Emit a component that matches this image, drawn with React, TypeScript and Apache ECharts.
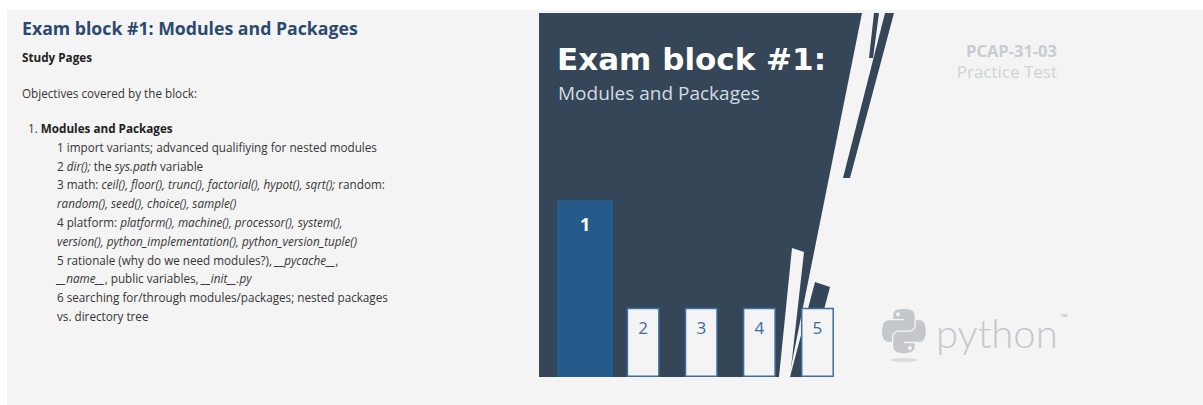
import React, { useEffect, useRef } from "react";
import * as echarts from "echarts";

const categories = ["1", "2", "3", "4", "5"];
const leadBar = [48.6, "-", "-", "-", "-"];
const blockBars = ["-", 19, 19, 19, 19];

const objectiveLines = [
  "1 import variants; advanced qualifiying for nested modules",
  "2 {i|dir();} the {i|sys.path} variable",
  "3 math: {i|ceil(), floor(), trunc(), factorial(), hypot(), sqrt();} random:",
  "{i|random(), seed(), choice(), sample()}",
  "4 platform: {i|platform(), machine(), processor(), system(),}",
  "{i|version(), python_implementation(), python_version_tuple()}",
  "5 rationale (why do we need modules?), {i|__pycache__},",
  "{i|__name__}, public variables, {i|__init__.py}",
  "6 searching for/through modules/packages; nested packages",
  "vs. directory tree",
];

const LOGO_D =
  "M54.9 0 C50.3 0 46 0.4 42.1 1.1 C30.8 3.1 28.7 7.3 28.7 15 L28.7 25.3 L55.5 25.3 L55.5 28.7 L18.6 28.7 " +
  "C10.8 28.7 4 33.4 1.85 42.3 C-0.6 52.5 -0.7 58.9 1.85 69.5 C3.76 77.5 8.3 83.1 16.1 83.1 L25.3 83.1 L25.3 70.9 " +
  "C25.3 62 33 54.2 42.1 54.2 L68.9 54.2 C76.3 54.2 82.3 48.1 82.3 40.6 L82.3 15 C82.3 7.8 76.2 2.3 68.9 1.1 " +
  "C64.3 0.3 59.5 0 54.9 0 Z " +
  "M85.6 28.7 L85.6 40.6 C85.6 49.8 77.8 57.6 68.9 57.6 L42.1 57.6 C34.8 57.6 28.7 63.9 28.7 71.2 L28.7 96.8 " +
  "C28.7 104 35 108.3 42.1 110.4 C50.6 112.9 58.7 113.4 68.9 110.4 C75.6 108.5 82.3 104.5 82.3 96.8 L82.3 86.5 " +
  "L55.5 86.5 L55.5 83.1 L95.7 83.1 C103.5 83.1 106.4 77.7 109.1 69.5 C111.9 61.1 111.8 53 109.1 42.3 " +
  "C107.2 34.5 103.5 28.7 95.7 28.7 Z";

let registered = false;
function registerLogo() {
  if (registered) return;
  echarts.graphic.registerShape("pylogo", echarts.graphic.extendPath(LOGO_D, {}) as any);
  registered = true;
}

const PANEL = "#f4f4f4";
const DARK = "#344658";
const FONT = "Open Sans";
const BODY = 11.7;

function txt(x: number, y: number, text: string, extra: any = {}) {
  return {
    type: "text",
    z: 11,
    style: {
      x,
      y,
      text,
      fill: extra.fill || "#363636",
      fontSize: extra.fontSize || BODY,
      fontFamily: extra.fontFamily || FONT,
      fontWeight: extra.fontWeight || "normal",
      align: extra.align || "left",
      textAlign: extra.align || "left",
      verticalAlign: "middle",
      textVerticalAlign: "middle",
      rich: extra.rich,
    },
  };
}

export default function App() {
  const ref = useRef<HTMLDivElement>(null);
  useEffect(() => {
    if (!ref.current) return;
    registerLogo();
    const chart = echarts.init(ref.current, undefined, { renderer: "svg" });
    const richBase = {
      i: { fontStyle: "italic", fontSize: BODY, fontFamily: FONT, fill: "#363636", color: "#363636" },
      b: { fontWeight: "bold", fontSize: BODY, fontFamily: FONT, fill: "#222222", color: "#222222" },
    };
    const lineEls = objectiveLines.map((l, k) =>
      txt(57, 146.7 + 18.8 * k, l, { rich: richBase })
    );
    const option: any = {
      animation: false,
      backgroundColor: "#ffffff",
      grid: { left: 556, right: 356.5, top: 13, bottom: 28 },
      xAxis: [
        { type: "category", data: categories, show: false },
        { type: "category", data: categories, show: false },
      ],
      yAxis: { type: "value", min: 0, max: 100, show: false },
      series: [
        {
          type: "bar",
          xAxisIndex: 0,
          z: 10,
          barWidth: 56,
          data: leadBar,
          itemStyle: { color: "#255b8a" },
          label: {
            show: true,
            position: "insideTop",
            distance: 14.5,
            formatter: "{b}",
            color: "#ffffff",
            fontSize: 18,
            lineHeight: 18,
            fontWeight: "bold",
            fontFamily: FONT,
          },
        },
        {
          type: "bar",
          xAxisIndex: 1,
          z: 10,
          barWidth: 33,
          data: blockBars,
          itemStyle: { color: PANEL, borderColor: "#3d6e9e", borderWidth: 1.5 },
          label: {
            show: true,
            position: "insideTop",
            distance: 11.5,
            formatter: "{b}",
            color: "#3b6b9b",
            fontSize: 17,
            lineHeight: 17,
            fontFamily: FONT,
          },
        },
      ],
      graphic: [
        { type: "rect", z: 0, shape: { x: 7, y: 10, width: 1196, height: 395 }, style: { fill: PANEL } },
        {
          type: "polygon",
          z: 2,
          shape: { points: [[539, 13], [862, 13], [789, 377], [539, 377]] },
          style: { fill: DARK },
        },
        {
          type: "polygon",
          z: 2,
          shape: { points: [[874, 13], [879, 13], [873, 58], [869, 58]] },
          style: { fill: DARK },
        },
        {
          type: "polygon",
          z: 2,
          shape: { points: [[885, 13], [894, 13], [850, 178], [843, 178]] },
          style: { fill: DARK },
        },
        {
          type: "polygon",
          z: 2,
          shape: { points: [[815, 282], [830, 287], [806, 377], [790, 377]] },
          style: { fill: DARK },
        },
        {
          type: "polygon",
          z: 3,
          shape: { points: [[792, 248], [804, 252], [790, 377], [779, 377]] },
          style: { fill: PANEL },
        },
        txt(22, 28, "Exam block #1: Modules and Packages", { fill: "#2c4a71", fontSize: 17.7, fontWeight: "bold" }),
        txt(22, 57, "Study Pages", { fill: "#222222", fontWeight: "bold" }),
        txt(22, 92.7, "Objectives covered by the block:"),
        txt(28, 128.3, "1. {b|Modules and Packages}", { rich: richBase }),
        ...lineEls,
        txt(557, 58.5, "Exam block #1:", { fill: "#ffffff", fontSize: 31, fontWeight: "bold", fontFamily: "DejaVu Sans" }),
        txt(558, 93, "Modules and Packages", { fill: "#d5dbe2", fontSize: 19 }),
        txt(1057, 50, "PCAP-31-03", { fill: "#c8ccd1", fontSize: 16.5, fontWeight: "bold", align: "right" }),
        txt(1057, 71, "Practice Test", { fill: "#cfd3d7", fontSize: 17, align: "right" }),
        {
          type: "pylogo",
          z: 5,
          x: 882,
          y: 309,
          scaleX: 0.395,
          scaleY: 0.395,
          style: { fill: "#c4c7cb" },
        },
        { type: "circle", z: 6, shape: { cx: 898, cy: 314.3, r: 2 }, style: { fill: PANEL } },
        { type: "circle", z: 6, shape: { cx: 909.9, cy: 347.9, r: 2 }, style: { fill: PANEL } },
        { type: "ellipse", z: 5, shape: { cx: 904, cy: 360, rx: 14, ry: 2 }, style: { fill: "#dcdcdc" } },
        txt(936, 333, "python", { fill: "#c4c7cb", fontSize: 40, fontFamily: "Lato", fontWeight: 300 }),
        txt(1061, 316, "™", { fill: "#b9bcc0", fontSize: 8.5 }),
      ],
    };
    chart.setOption(option);
    return () => chart.dispose();
  }, []);
  return <div ref={ref} style={{ position: "absolute", left: 0, top: 0, width: 1203, height: 405 }} />;
}
